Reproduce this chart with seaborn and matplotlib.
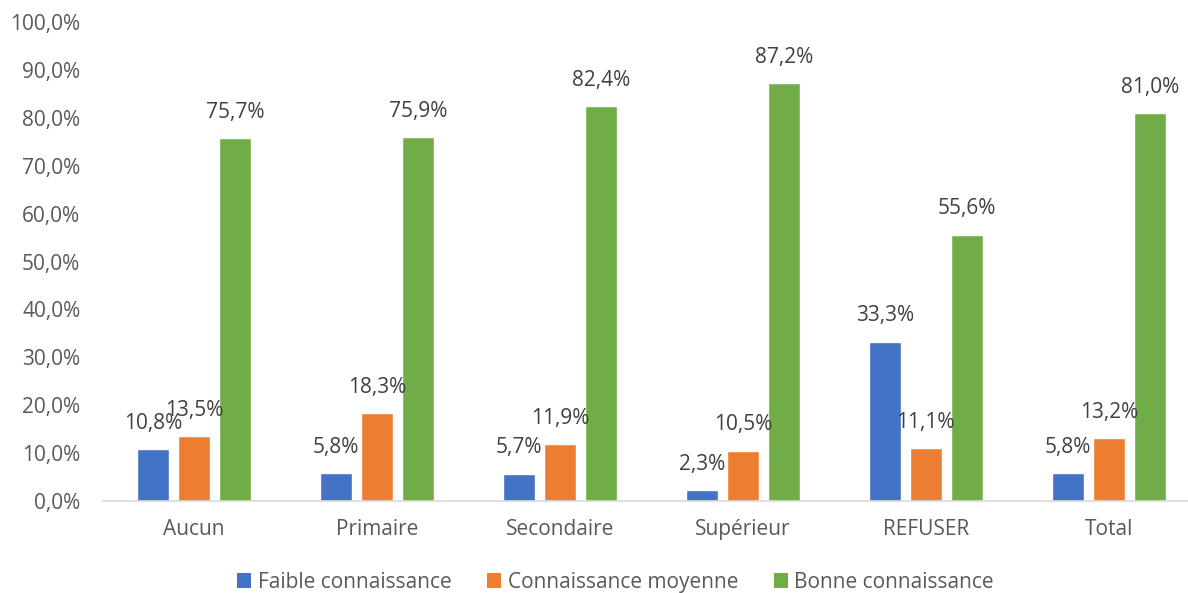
import matplotlib
matplotlib.use("Agg")
import matplotlib.pyplot as plt
import seaborn as sns
import pandas as pd
from matplotlib.patches import Patch

categories = ["Aucun", "Primaire", "Secondaire", "Supérieur", "REFUSER", "Total"]
series = ["Faible connaissance", "Connaissance moyenne", "Bonne connaissance"]
faible = [10.8, 5.8, 5.7, 2.3, 33.3, 5.8]
moyenne = [13.5, 18.3, 11.9, 10.5, 11.1, 13.2]
bonne = [75.7, 75.9, 82.4, 87.2, 55.6, 81.0]
colors = ["#4472C4", "#ED7D31", "#70AD47"]
yticks = list(range(0, 101, 10))

rows = []
for name, vals in zip(series, [faible, moyenne, bonne]):
    for cat, v in zip(categories, vals):
        rows.append({"Niveau": cat, "Série": name, "Valeur": v})
df = pd.DataFrame(rows)

sns.set_theme(style="white")
plt.rcParams["font.family"] = ["Open Sans", "DejaVu Sans"]

fig = plt.figure(figsize=(11.88, 5.93), dpi=100)
ax = fig.add_axes([0.0863, 0.155, 0.924, 0.808])

sns.barplot(data=df, x="Niveau", y="Valeur", hue="Série", order=categories,
            hue_order=series, palette=colors, width=0.672, gap=0.22,
            saturation=1, ax=ax, legend=False)

def fmt(v):
    return f"{v:.1f}%".replace(".", ",")

for cont, vals in zip(ax.containers, [faible, moyenne, bonne]):
    ax.bar_label(cont, labels=[fmt(v) for v in vals], padding=11,
                 fontsize=15, color="#404040")

ax.set_xlim(-0.5, 5.5)
ax.set_ylim(0, 100)
ax.set_yticks(yticks)
ax.set_yticklabels([f"{t:.1f}%".replace(".", ",") for t in yticks],
                   fontsize=15, color="#595959")
ax.tick_params(axis="x", labelsize=15, labelcolor="#595959", pad=13, length=0)
ax.tick_params(axis="y", length=0, pad=16)
ax.set_xlabel("")
ax.set_ylabel("")
for s in ["left", "right", "top"]:
    ax.spines[s].set_visible(False)
ax.spines["bottom"].set_color("#D9D9D9")
ax.spines["bottom"].set_linewidth(1.2)

handles = [Patch(facecolor=c, edgecolor="none") for c in colors]
fig.legend(handles, series, loc="center", bbox_to_anchor=(0.518, 0.018),
           ncol=3, frameon=False, fontsize=15, labelcolor="#595959",
           handlelength=0.7, handleheight=0.7, handletextpad=0.3,
           columnspacing=1.7)

fig.savefig("out.png", dpi=100)
